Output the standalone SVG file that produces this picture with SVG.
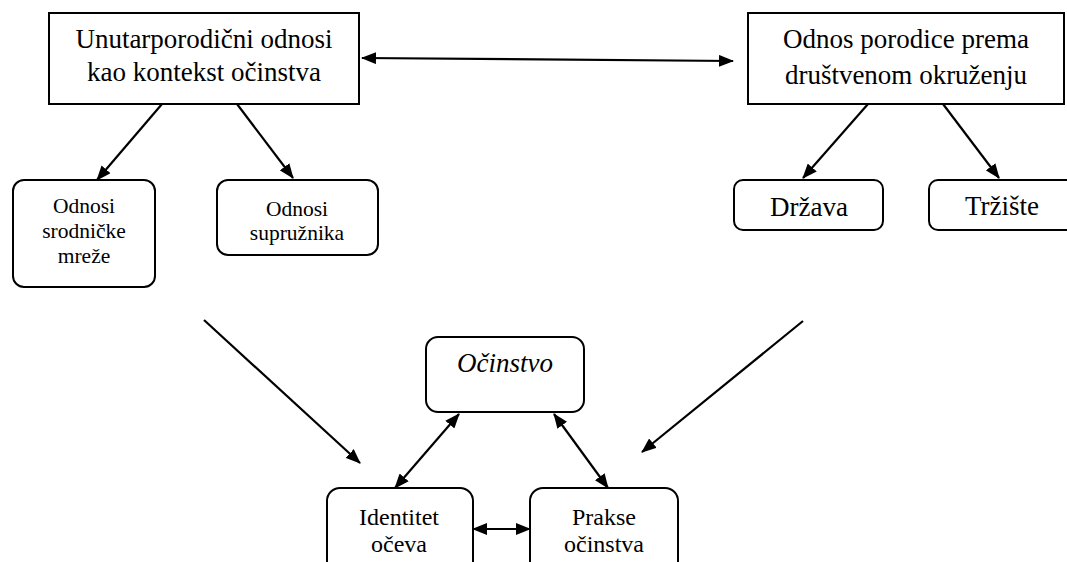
<svg xmlns="http://www.w3.org/2000/svg" width="1067" height="562" viewBox="0 0 1067 562">
<style>
.box{fill:#fff;stroke:#000;stroke-width:2}
text{font-family:'Liberation Serif','Times New Roman',Times,serif;fill:#000;text-anchor:middle}
.big{font-size:27px}
.mid{font-size:24px}
.sm{font-size:21.5px}
.c{stroke:#000;stroke-width:2.2;fill:none}
</style>
<defs>
<marker id="ah" viewBox="0 0 15 12" refX="14" refY="6" markerWidth="15" markerHeight="12" markerUnits="userSpaceOnUse" orient="auto-start-reverse">
<path d="M0,0 L15,6 L0,12 Z" fill="#000"/>
</marker>
</defs>
<rect width="1067" height="562" fill="#fff"/>
<g id="connectors">
<line class="c" x1="362" y1="58" x2="733" y2="61" marker-start="url(#ah)" marker-end="url(#ah)"/>
<line class="c" x1="162" y1="104" x2="97" y2="180" marker-end="url(#ah)"/>
<line class="c" x1="237" y1="104" x2="293" y2="178" marker-end="url(#ah)"/>
<line class="c" x1="868" y1="104" x2="803" y2="178" marker-end="url(#ah)"/>
<line class="c" x1="943" y1="104" x2="999" y2="178" marker-end="url(#ah)"/>
<line class="c" x1="204" y1="320" x2="360" y2="463" marker-end="url(#ah)"/>
<line class="c" x1="803" y1="321" x2="642" y2="452" marker-end="url(#ah)"/>
<line class="c" x1="459" y1="414" x2="395" y2="488" marker-start="url(#ah)" marker-end="url(#ah)"/>
<line class="c" x1="554" y1="414" x2="608" y2="488" marker-start="url(#ah)" marker-end="url(#ah)"/>
<line class="c" x1="473" y1="529" x2="530" y2="529" marker-start="url(#ah)" marker-end="url(#ah)"/>
</g>
<g id="n-unutarporodicni">
<rect class="box" x="49" y="13" width="310" height="91"/>
<text class="big" x="204" y="48">Unutarporodični odnosi</text>
<text class="big" x="204" y="81">kao kontekst očinstva</text>
</g>
<g id="n-odnos-porodice">
<rect class="box" x="748" y="13" width="316" height="91"/>
<text class="big" x="906" y="48">Odnos porodice prema</text>
<text class="big" x="906" y="84">društvenom okruženju</text>
</g>
<g id="n-srodnicke">
<rect class="box" x="13" y="180" width="142" height="107" rx="11"/>
<text class="sm" x="84" y="213">Odnosi</text>
<text class="sm" x="84" y="238">srodničke</text>
<text class="sm" x="84" y="263">mreže</text>
</g>
<g id="n-supruznika">
<rect class="box" x="217" y="180" width="161" height="75" rx="11"/>
<text class="sm" x="297" y="216">Odnosi</text>
<text class="sm" x="297" y="240">supružnika</text>
</g>
<g id="n-drzava">
<rect class="box" x="734" y="180" width="149" height="50" rx="9"/>
<text class="big" x="809" y="216">Država</text>
</g>
<g id="n-trziste">
<rect class="box" x="929" y="180" width="150" height="50" rx="9"/>
<text class="big" x="1002" y="215">Tržište</text>
</g>
<g id="n-ocinstvo">
<rect class="box" x="426" y="337" width="158" height="75" rx="12"/>
<text class="big" x="505" y="372" font-style="italic">Očinstvo</text>
</g>
<g id="n-identitet">
<rect class="box" x="327" y="488" width="146" height="90" rx="13"/>
<text class="mid" x="399" y="525">Identitet</text>
<text class="mid" x="399" y="552">očeva</text>
</g>
<g id="n-prakse">
<rect class="box" x="530" y="488" width="148" height="90" rx="13"/>
<text class="mid" x="604" y="525">Prakse</text>
<text class="mid" x="604" y="552">očinstva</text>
</g>
</svg>
